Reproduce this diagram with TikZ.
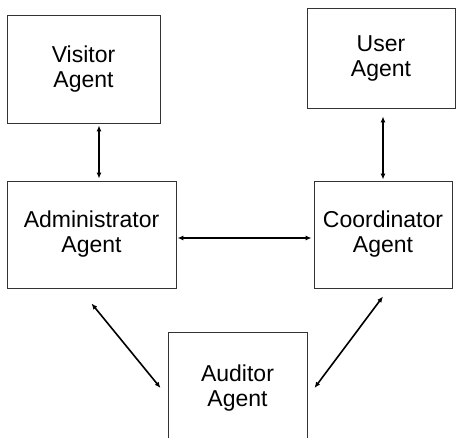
\documentclass[tikz,border=0pt]{standalone}
\usepackage{fontspec}
\setmainfont{Liberation Sans}
\usetikzlibrary{arrows.meta, positioning}

\tikzset{
	agent/.style={
		draw=black!80,
		line width=0.9pt,
		align=center,
		inner sep=0pt,
		font=\fontsize{23}{25}\selectfont
	},
	link/.style={
		{Latex[length=6pt,width=5pt]}-{Latex[length=6pt,width=5pt]},
		line width=1.6pt
	}
}

\begin{document}
\begin{tikzpicture}[x=1pt,y=-1pt]
		\useasboundingbox (0,0) rectangle (456,438);
		\clip (0,0) rectangle (456,438);
		\node[agent, minimum width=153pt, minimum height=108pt] (visitor) at (83.5,69) {Visitor\\Agent};
		\node[agent, minimum width=148pt, minimum height=100pt] (user) at (381,58) {User\\Agent};
		\node[agent, minimum width=169pt, minimum height=107pt] (admin) at (91.5,234.5) {Administrator\\Agent};
		\node[agent, minimum width=138pt, minimum height=107pt] (coord) at (383,234.5) {Coordinator\\Agent};
		\node[agent, minimum width=139pt, minimum height=112pt] (auditor) at (237.5,388) {Auditor\\Agent};

		\draw[link] ([xshift=15.5pt,yshift=-2pt]visitor.south) -- ([xshift=7.5pt,yshift=2pt]admin.north);
		\draw[link] ([xshift=2pt,yshift=-8pt]user.south) -- ([yshift=1pt]coord.north);
		\draw[link] ([xshift=1pt,yshift=-3.5pt]admin.east) -- ([xshift=-2pt,yshift=-3.5pt]coord.west);
		\draw[link] ([yshift=-15pt]admin.south) -- ([xshift=-7pt]auditor.west);
		\draw[link] ([yshift=-8pt]coord.south) -- ([xshift=7pt]auditor.east);
	\end{tikzpicture}
\end{document}
